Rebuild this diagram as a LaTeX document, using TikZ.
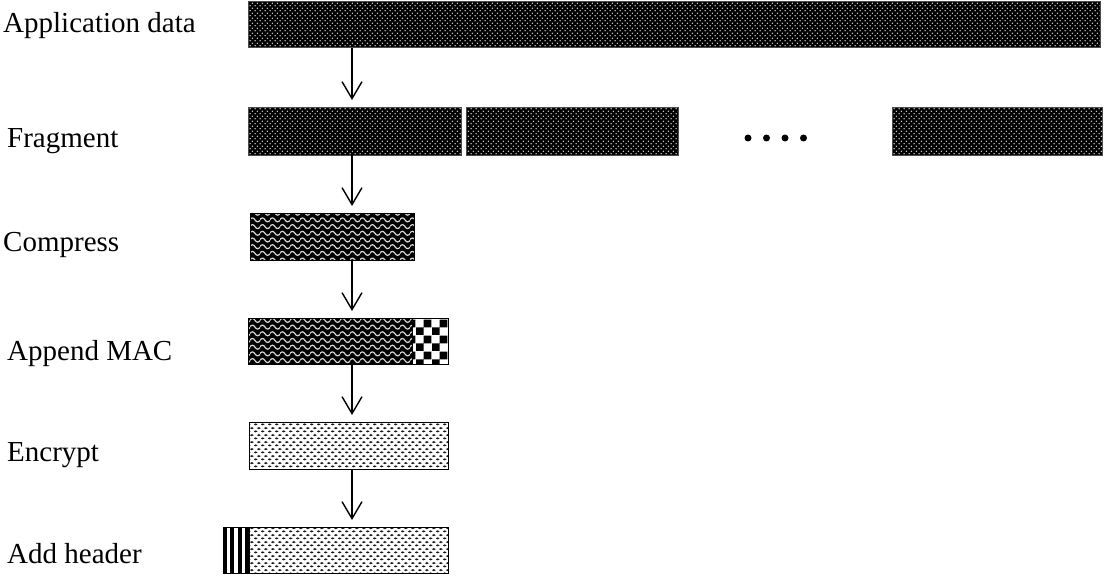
\documentclass[tikz,border=0pt]{standalone}
\usepackage{fontspec}
\setmainfont{Liberation Serif}
\usetikzlibrary{patterns,arrows.meta}

\pgfdeclarepatternformonly{blackdots}{\pgfqpoint{0pt}{0pt}}{\pgfqpoint{4.7pt}{5.4pt}}{\pgfqpoint{4.7pt}{5.4pt}}{%
  \pgfpathcircle{\pgfqpoint{1.175pt}{1.35pt}}{0.8pt}%
  \pgfpathcircle{\pgfqpoint{3.525pt}{4.05pt}}{0.8pt}%
  \pgfusepath{fill}}

\pgfdeclarepatternformonly{waves}{\pgfqpoint{0pt}{-3.35pt}}{\pgfqpoint{10pt}{3.35pt}}{\pgfqpoint{10pt}{6.7pt}}{%
  \pgfsetlinewidth{1.2pt}%
  \pgfpathmoveto{\pgfqpoint{-0.5pt}{0pt}}%
  \pgfpathcurveto{\pgfqpoint{1.7pt}{2.6pt}}{\pgfqpoint{3.3pt}{2.6pt}}{\pgfqpoint{5pt}{0pt}}%
  \pgfpathcurveto{\pgfqpoint{6.7pt}{-2.6pt}}{\pgfqpoint{8.3pt}{-2.6pt}}{\pgfqpoint{10.5pt}{0pt}}%
  \pgfusepath{stroke}}

\pgfdeclarepatternformonly{checks}{\pgfqpoint{0pt}{0pt}}{\pgfqpoint{16pt}{16pt}}{\pgfqpoint{16pt}{16pt}}{%
  \pgfpathrectangle{\pgfqpoint{0pt}{0pt}}{\pgfqpoint{8pt}{8pt}}%
  \pgfpathrectangle{\pgfqpoint{8pt}{8pt}}{\pgfqpoint{8pt}{8pt}}%
  \pgfusepath{fill}}

\pgfdeclarepatternformonly{dashdots}{\pgfqpoint{0pt}{0pt}}{\pgfqpoint{6.7pt}{6.7pt}}{\pgfqpoint{6.7pt}{6.7pt}}{%
  \pgfpathellipse{\pgfqpoint{1.675pt}{1.675pt}}{\pgfqpoint{2pt}{0pt}}{\pgfqpoint{0pt}{1.1pt}}%
  \pgfpathellipse{\pgfqpoint{5.025pt}{5.025pt}}{\pgfqpoint{2pt}{0pt}}{\pgfqpoint{0pt}{1.1pt}}%
  \pgfusepath{fill}}

\begin{document}
\begin{tikzpicture}[x=1pt,y=-1pt,
  box/.style={draw=black, line width=1pt, inner sep=0pt, outer sep=0pt, anchor=north west},
  datbox/.style={box, draw=black!70, preaction={fill=black}, pattern=blackdots, pattern color=black!15},
  wavebox/.style={box, preaction={fill=black}, pattern=waves, pattern color=black!15},
  macbox/.style={box, fill=white, pattern=checks, pattern color=black},
  encbox/.style={box, fill=white, pattern=dashdots, pattern color=black!90},
  hdrbox/.style={box, fill=white},
  lbl/.style={anchor=base west, inner sep=0pt, font=\fontsize{29}{34}\selectfont},
  dotn/.style={circle, fill=black, inner sep=0pt, minimum size=7pt},
  arr/.style={line width=1.4pt, -{Straight Barb[length=17pt,width=20pt,line width=1.4pt]}, shorten >=7pt}
]
\useasboundingbox (0,0) rectangle (1108,575);

% labels
\node[lbl] (l1) at (3,33) {Application data};
\node[lbl] (l2) at (7,147.5) {Fragment};
\node[lbl] (l3) at (3,251) {Compress};
\node[lbl] (l4) at (7,360.5) {Append MAC};
\node[lbl] (l5) at (7,461.5) {Encrypt};
\node[lbl] (l6) at (7,563) {Add header};

% boxes
\node[datbox, minimum width=852pt, minimum height=46pt] (app) at (248,2) {};
\node[datbox, minimum width=213pt, minimum height=47pt] (f1) at (248,108) {};
\node[datbox, minimum width=212pt, minimum height=47pt] (f2) at (466,108) {};
\node[datbox, minimum width=210pt, minimum height=47pt] (f3) at (892,108) {};

\node[dotn] (d1) at (748,138) {};
\node[dotn] (d2) at (766.5,138) {};
\node[dotn] (d3) at (785,138) {};
\node[dotn] (d4) at (803.5,138) {};

\node[wavebox, minimum width=164pt, minimum height=47pt] (comp) at (250,213) {};

\node[wavebox, minimum width=164pt, minimum height=46pt] (macdata) at (248,318) {};
\node[macbox, minimum width=36pt, minimum height=46pt] (mac) at (412,318) {};

\node[encbox, minimum width=199pt, minimum height=47pt] (enc) at (249,422) {};

\node[hdrbox, minimum width=26pt, minimum height=46pt] (hdr) at (223,527) {};
\node[encbox, minimum width=199pt, minimum height=46pt] (body) at (249,527) {};
\foreach \bx in {223,230.3,237.6,244.9}
  \fill[black] (\bx,527) rectangle ++(4.1,46);
\draw[line width=1pt] (hdr.north west) rectangle (hdr.south east);

% arrows
\coordinate (ax) at (352,0);
\draw[arr, shorten >=8pt] (app.south -| ax) -- (f1.north -| ax);
\draw[arr] (f1.south -| ax) -- (comp.north -| ax);
\draw[arr] (comp.south -| ax) -- (macdata.north -| ax);
\draw[arr] (macdata.south -| ax) -- (enc.north -| ax);
\draw[arr] (enc.south -| ax) -- (body.north -| ax);
\end{tikzpicture}
\end{document}
